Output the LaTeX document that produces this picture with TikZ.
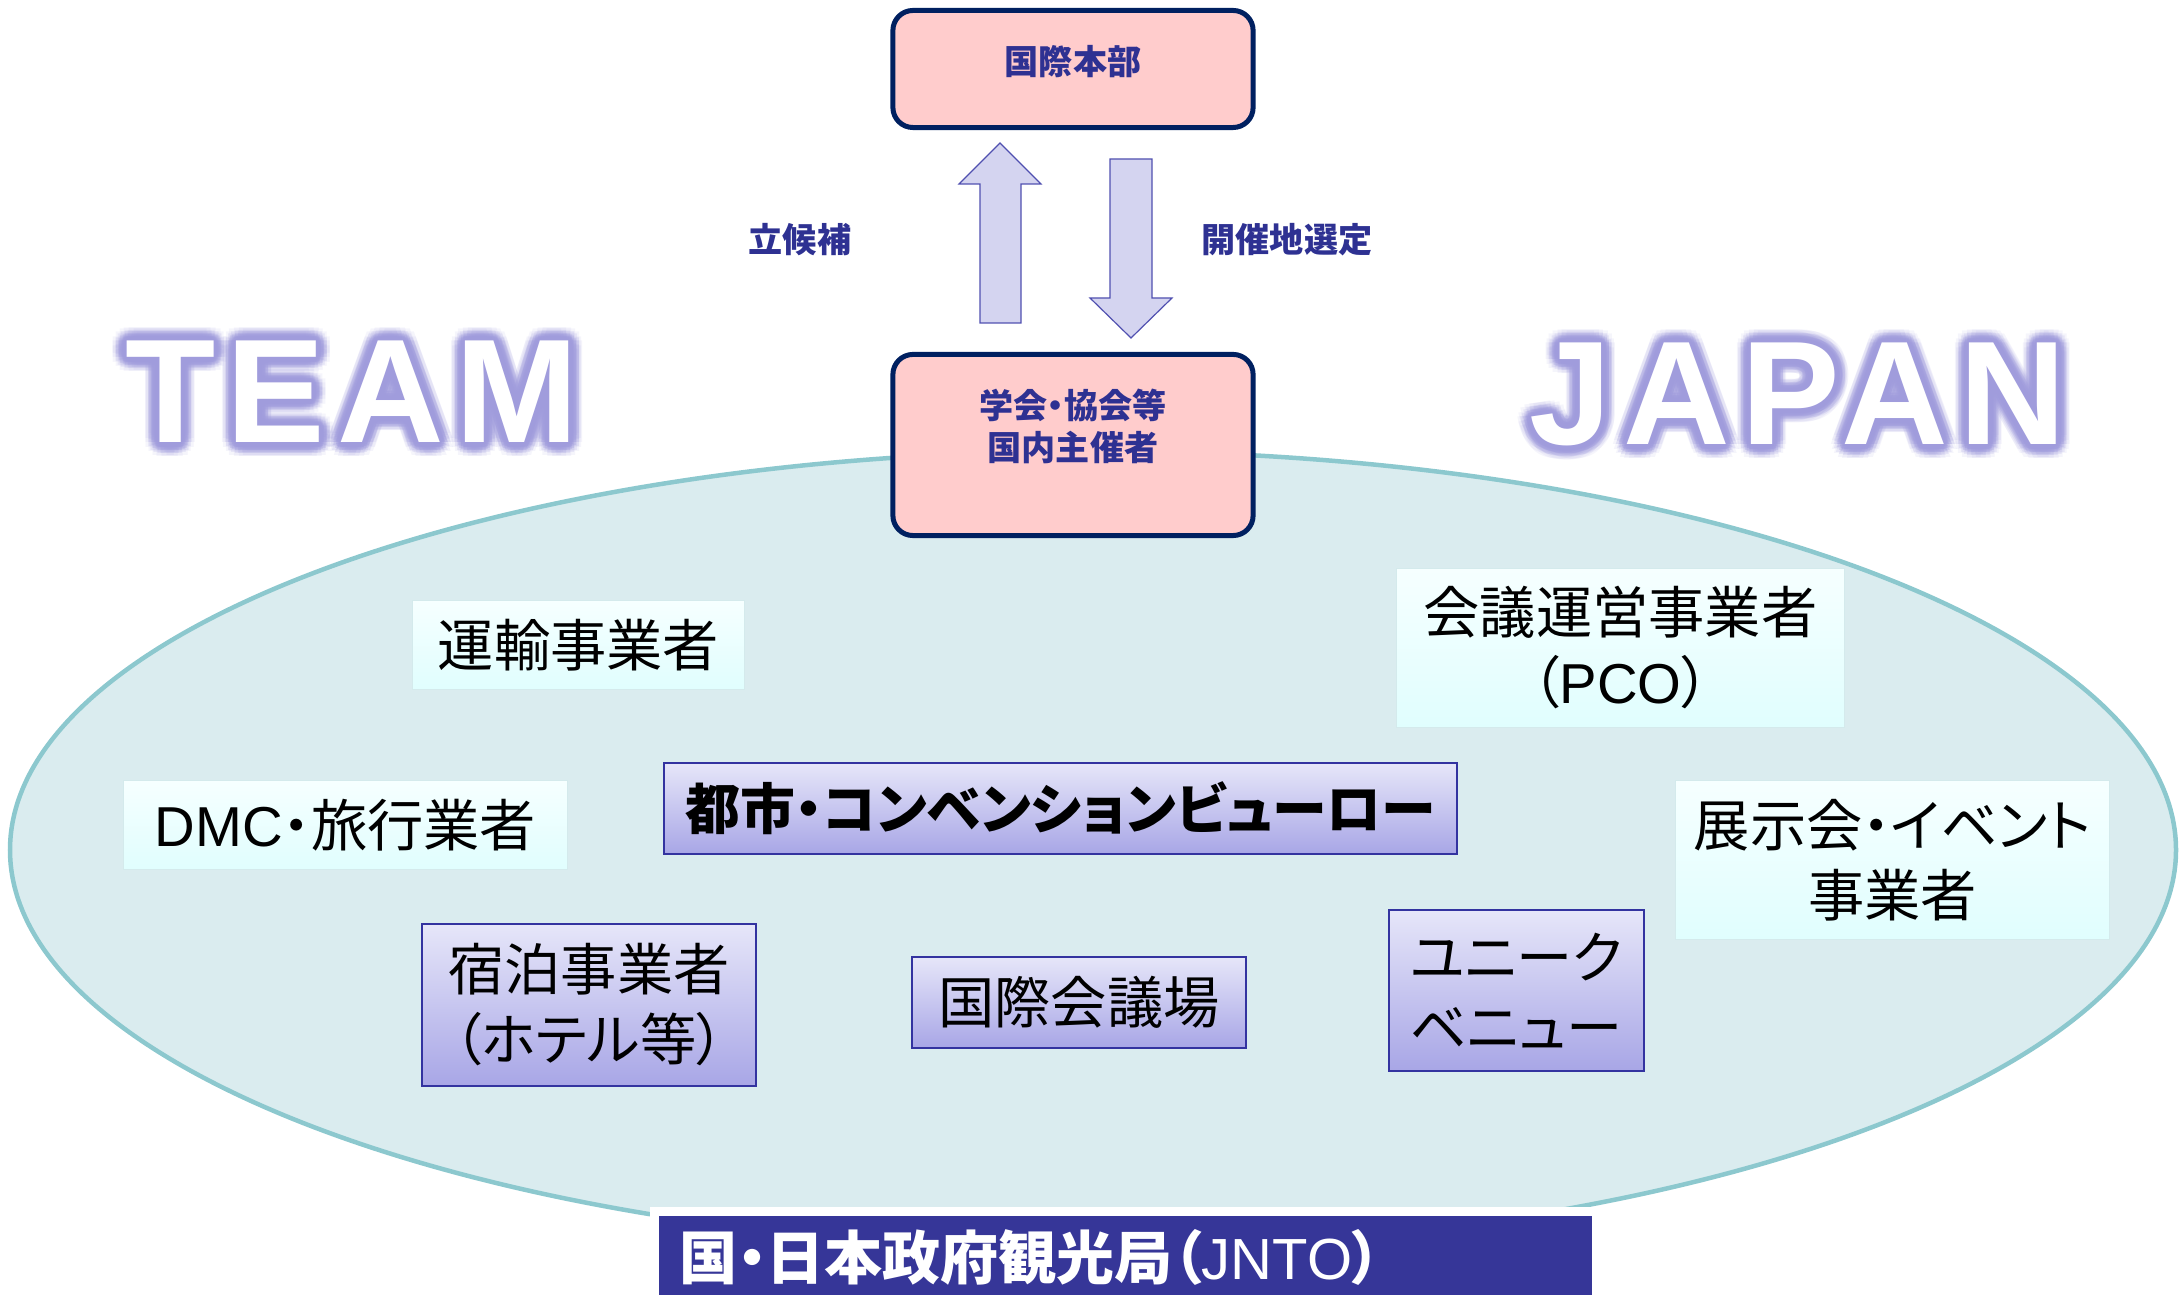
\documentclass[tikz,border=0pt]{standalone}
\usepackage{fontspec}
\usetikzlibrary{positioning,calc,shapes}
\newfontfamily\jpfont[RawFeature=+palt]{Noto Sans CJK JP}
\newfontfamily\latinfont{Liberation Sans}
\newfontfamily\teamfont[LetterSpace=8]{Liberation Sans}
\definecolor{navy}{RGB}{0,32,96}
\definecolor{inknavy}{RGB}{46,49,146}
\definecolor{rosefill}{RGB}{255,204,204}
\definecolor{arrowfill}{RGB}{212,212,240}
\definecolor{arrowline}{RGB}{80,80,176}
\definecolor{seafill}{RGB}{218,236,239}
\definecolor{seaedge}{RGB}{140,200,206}
\definecolor{minthi}{RGB}{246,255,255}
\definecolor{mintlo}{RGB}{224,254,254}
\definecolor{mintedge}{RGB}{212,234,236}
\definecolor{lilachi}{RGB}{230,230,249}
\definecolor{lilaclo}{RGB}{168,166,230}
\definecolor{lilacedge}{RGB}{51,51,160}
\definecolor{jntoblue}{RGB}{54,54,152}
\definecolor{glow}{RGB}{160,156,220}

\begin{document}
\begin{tikzpicture}
[x=0.01cm,y=-0.01cm,
orgbox/.style={draw=navy,line width=0.05cm,fill=rosefill,rounded corners=0.2cm,
  align=center,text=inknavy,inner sep=0pt,minimum width=3.6cm,
  font=\jpfont\bfseries\fontsize{9.7}{11.8}\selectfont},
tag/.style={text=inknavy,font=\jpfont\bfseries\fontsize{9.7}{11.4}\selectfont},
blockarrow/.style={fill=arrowfill,draw=arrowline,line width=0.012cm},
wordmark/.style={anchor=base,inner sep=0pt,font=\teamfont\bfseries\fontsize{42}{42}\selectfont},
actor/.style={align=center,inner sep=0pt,font=\jpfont\fontsize{16}{19.9}\selectfont},
mintbox/.style={actor,top color=minthi,bottom color=mintlo,draw=mintedge,line width=0.01cm},
lilacbox/.style={actor,top color=lilachi,bottom color=lilaclo,draw=lilacedge,line width=0.02cm}]
%%
% page
%%
\useasboundingbox (0,0) rectangle (2179,1295);
%%
% TEAM JAPAN
%%
\coordinate (teampos) at (352,443);
\coordinate (japanpos) at (1798,445);
\foreach \r/\o in {14/0.1,11/0.18,8/0.3,5/0.45,2/0.6}
  \foreach \a in {0,20,...,340}{
    \node[wordmark,text=glow,opacity=\o] at ($(teampos)+(\a:\r)$) {TEAM};
    \node[wordmark,text=glow,opacity=\o] at ($(japanpos)+(\a:\r)$) {JAPAN};
  }
\node[wordmark,text=white] (team) at (teampos) {TEAM};
\node[wordmark,text=white] (japan) at (japanpos) {JAPAN};
%%
% field
%%
\draw[fill=seafill,draw=seaedge,line width=0.045cm] (1093,850) ellipse [x radius=1083,y radius=399];
%%
% organisers
%%
\node[orgbox,minimum height=1.17cm,text depth=0.19cm] (hq) at (1073,69) {国際本部};
\node[orgbox,minimum height=1.81cm,text depth=0.40cm] (host) at (1073,445) {学会・協会等\\国内主催者};
\draw[blockarrow] (980,323) -- (980,184) -- (959,184) -- (1000,143)
  -- (1041,184) -- (1021,184) -- (1021,323) -- cycle;
\draw[blockarrow] (1110,159) -- (1152,159) -- (1152,298) -- (1172,298)
  -- (1131,338) -- (1090,298) -- (1110,298) -- cycle;
\node[tag] (bid) at (800,240) {立候補};
\node[tag] (pick) at (1287,240) {開催地選定};
%%
% team members
%%
\node[mintbox,minimum width=3.31cm,minimum height=0.88cm] (transport) at (578.5,645) {運輸事業者};
\node[mintbox,minimum width=4.43cm,minimum height=0.88cm] (dmc) at (345.5,825) {{\latinfont DMC}・旅行業者};
\node[mintbox,minimum width=4.47cm,minimum height=1.58cm] (pco) at (1620.5,648) {会議運営事業者\\（{\latinfont PCO}）};
\node[mintbox,minimum width=4.34cm,minimum height=1.58cm] (expo) at (1892.5,860) {展示会・イベント\\事業者};
\node[lilacbox,minimum width=7.93cm,minimum height=0.91cm,font=\jpfont\bfseries\fontsize{15.6}{19.9}\selectfont] (cvb) at (1060.5,808.5) {都市・コンベンションビューロー};
\node[lilacbox,minimum width=3.34cm,minimum height=1.62cm] (hotel) at (589,1005) {宿泊事業者\\（ホテル等）};
\node[lilacbox,minimum width=3.34cm,minimum height=0.91cm] (hall) at (1079,1002.5) {国際会議場};
\node[lilacbox,minimum width=2.55cm,minimum height=1.61cm,align=left] (unique) at (1516.5,990.5) {ユニーク\\ベニュー};
%%
% JNTO
%%
\node[fill=jntoblue,draw=white,line width=0.09cm,text=white,align=left,
  minimum width=9.42cm,minimum height=0.925cm,text width=8.91cm,inner xsep=0.255cm,inner ysep=0pt,
  font=\jpfont\bfseries\fontsize{16.5}{19.9}\selectfont] (jnto) at (1125.5,1257.75) {国・日本政府観光局（{\latinfont\mdseries JNTO}）};
\end{tikzpicture}
\end{document}
